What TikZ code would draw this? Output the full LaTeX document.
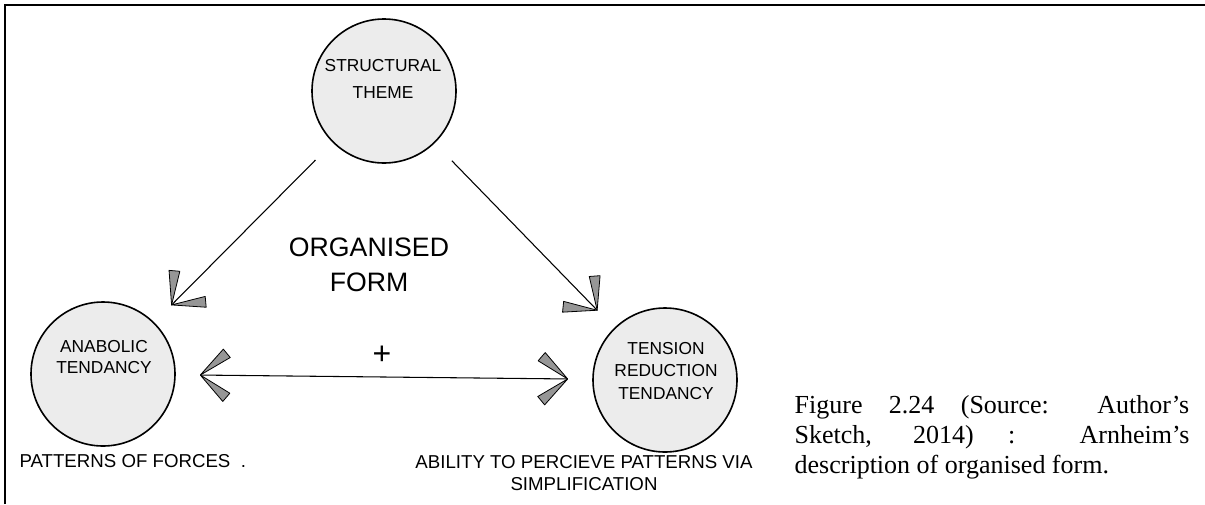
\documentclass[tikz,border=0pt]{standalone}
\usepackage{fontspec}
\usetikzlibrary{decorations.markings}
\newfontfamily\handfont{Liberation Sans}
\newfontfamily\capfont{Liberation Serif}
\definecolor{circlefill}{RGB}{236,236,236}
\definecolor{barbfill}{RGB}{150,150,150}
% two grey barbs at the tip, opening backwards
\newcommand\barbs[1][1]{%
  \begin{scope}[xscale=#1]
    \filldraw[fill=barbfill, draw=black, line width=0.6pt, line join=round] (0,0) -- (131:26pt) -- (149:26pt) -- cycle;
    \filldraw[fill=barbfill, draw=black, line width=0.6pt, line join=round] (0,0) -- (211:26pt) -- (229:26pt) -- cycle;
  \end{scope}}
\begin{document}
\begin{tikzpicture}[x=0.75pt,y=-0.75pt,thick,
    circle node/.style={circle,draw,fill=circlefill,line width=1.2pt,minimum size=108pt,inner sep=0pt,outer sep=19pt},
    hand text/.style={font=\handfont\fontsize{13}{17}\selectfont,align=center},
    barb end/.style={line width=0.8pt,postaction={decorate},decoration={markings,mark=at position 1 with {\barbs}}},
    barb both/.style={line width=0.8pt,postaction={decorate},decoration={markings,mark=at position 0 with {\barbs[-1]},mark=at position 1 with {\barbs}}}]
    \useasboundingbox (0,0) rectangle (1205,504);
    \draw[line width=1.5pt] (5,504) -- (5,5) -- (1205,5);

    \node[circle node] (theme) at (384,91) {};
    \node[circle node] (anabolic) at (103,374) {};
    \node[circle node] (tension) at (665,380) {};

    \node[hand text,font=\handfont\fontsize{13}{20}\selectfont] (themetext) at (383,79) {STRUCTURAL\\THEME};
    \node[hand text,font=\handfont\fontsize{13}{16}\selectfont] (anabolictext) at (104,357) {ANABOLIC\\TENDANCY};
    \node[hand text] (tensiontext) at (666,371) {TENSION\\REDUCTION\\TENDANCY};
    \node[hand text,font=\handfont\fontsize{20}{26}\selectfont] (organised) at (369,265) {ORGANISED\\FORM};
    \node[hand text,font=\handfont\fontsize{24}{24}\selectfont] (plus) at (382,355) {+};

    \node[hand text,font=\handfont\fontsize{14}{16}\selectfont,anchor=west,inner sep=0pt] (forces) at (19,461) {PATTERNS OF FORCES \ .};
    \node[hand text,font=\handfont\fontsize{14}{16}\selectfont] (ability) at (584,473) {ABILITY TO PERCIEVE PATTERNS VIA\\SIMPLIFICATION};

    \path[draw,barb end] (theme) -- (anabolic);
    \path[draw,barb end] (theme) -- (tension);
    \path[draw,barb both] (anabolic) -- (tension);

    \node[font=\capfont\fontsize{19.5}{22.5}\selectfont,text width=296pt,align=justify,inner sep=0pt] (caption) at (992,437)
        {Figure 2.24 (Source: Author’s\linebreak Sketch, 2014) : Arnheim’s\linebreak description of organised form.};
\end{tikzpicture}
\end{document}
